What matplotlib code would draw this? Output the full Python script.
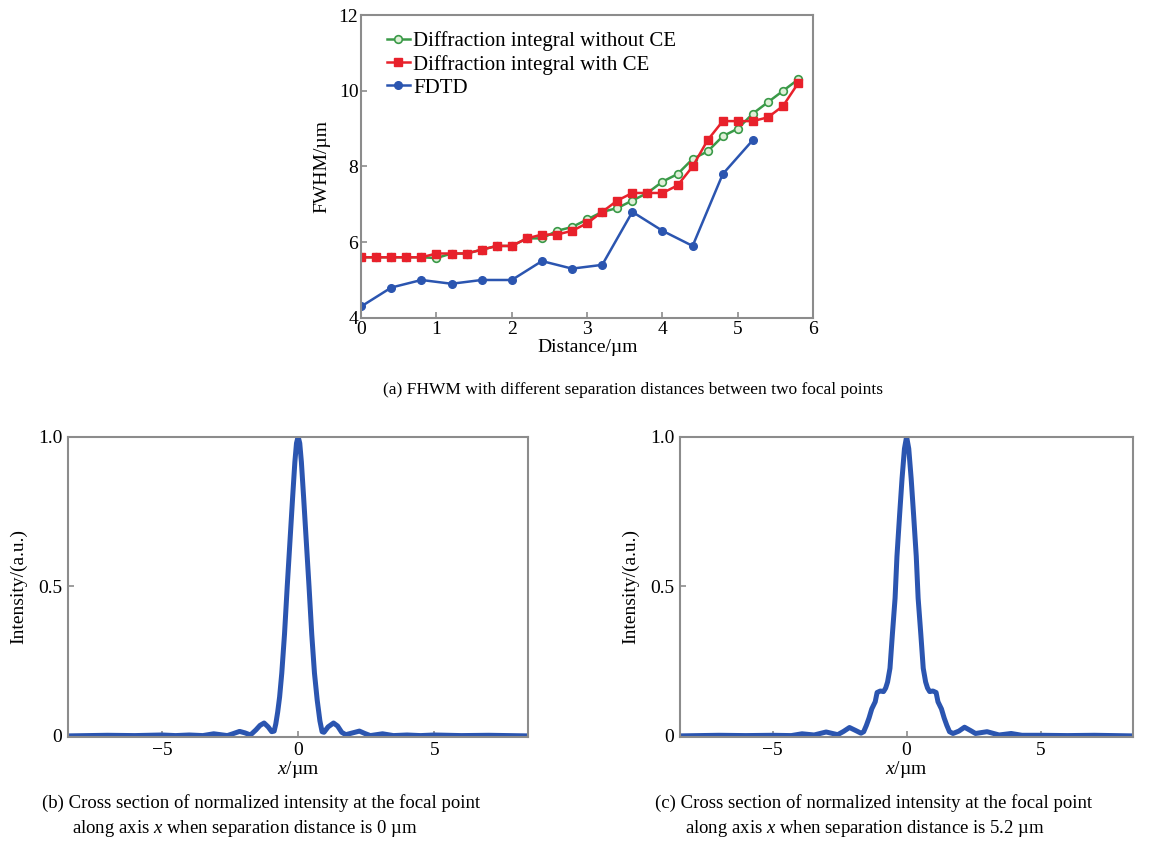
import numpy as np
import matplotlib
matplotlib.use("Agg")
import matplotlib.pyplot as plt

plt.rcParams["font.family"] = ["Liberation Serif", "DejaVu Serif"]
plt.rcParams["mathtext.fontset"] = "custom"
plt.rcParams["mathtext.rm"] = "Liberation Serif"
plt.rcParams["mathtext.it"] = "Liberation Serif:italic"
plt.rcParams["axes.unicode_minus"] = True

# ---- data: (a) FWHM vs separation distance ----
dist_ce = [0.0, 0.2, 0.4, 0.6, 0.8, 1.0, 1.2, 1.4, 1.6, 1.8, 2.0, 2.2, 2.4, 2.6, 2.8,
           3.0, 3.2, 3.4, 3.6, 3.8, 4.0, 4.2, 4.4, 4.6, 4.8, 5.0, 5.2, 5.4, 5.6, 5.8]
fwhm_no_ce = [5.6, 5.6, 5.6, 5.6, 5.6, 5.58, 5.7, 5.7, 5.8, 5.9, 5.9, 6.1, 6.1, 6.3, 6.4,
              6.6, 6.8, 6.9, 7.1, 7.3, 7.6, 7.8, 8.2, 8.4, 8.8, 9.0, 9.4, 9.7, 10.0, 10.3]
fwhm_ce = [5.6, 5.6, 5.6, 5.6, 5.6, 5.7, 5.7, 5.7, 5.8, 5.9, 5.9, 6.1, 6.2, 6.2, 6.3,
           6.5, 6.8, 7.1, 7.3, 7.3, 7.3, 7.5, 8.0, 8.7, 9.2, 9.2, 9.2, 9.3, 9.6, 10.2]
dist_fdtd = [0.0, 0.4, 0.8, 1.2, 1.6, 2.0, 2.4, 2.8, 3.2, 3.6, 4.0, 4.4, 4.8, 5.2]
fwhm_fdtd = [4.3, 4.8, 5.0, 4.9, 5.0, 5.0, 5.5, 5.3, 5.4, 6.8, 6.3, 5.9, 7.8, 8.7]

# ---- data: (b) intensity cross section, separation 0 um ----
x_b = [-8.45, -7.0, -6.0, -5.0, -4.5, -4.0, -3.5, -3.1, -2.6, -2.4, -2.15, -1.95, -1.75,
       -1.55, -1.4, -1.25, -1.1, -0.97, -0.88, -0.82, -0.75, -0.68, -0.6, -0.5, -0.4,
       -0.3, -0.2, -0.12, -0.06, 0.0, 0.06, 0.12, 0.2, 0.3, 0.4, 0.5, 0.6, 0.7, 0.8, 0.88, 0.95,
       1.1, 1.3, 1.45, 1.6, 1.75, 2.0, 2.25, 2.45, 2.65, 3.1, 3.5, 4.0, 4.5, 5.0,
       6.0, 7.0, 8.45]
i_b = [0.0, 0.002, 0.001, 0.003, 0.001, 0.003, 0.001, 0.007, 0.001, 0.007, 0.015, 0.01, 0.003,
       0.02, 0.035, 0.043, 0.03, 0.014, 0.016, 0.04, 0.08, 0.13, 0.21, 0.34, 0.5,
       0.65, 0.8, 0.915, 0.978, 1.0, 0.978, 0.915, 0.8, 0.65, 0.5, 0.34, 0.21, 0.12, 0.05, 0.014, 0.012,
       0.03, 0.043, 0.033, 0.012, 0.004, 0.01, 0.016, 0.008, 0.001, 0.007, 0.001, 0.003, 0.001, 0.003,
       0.001, 0.002, 0.0]

# ---- data: (c) intensity cross section, separation 5.2 um ----
x_c = [-8.45, -7.0, -6.0, -5.0, -4.3, -3.9, -3.45, -3.0, -2.57, -2.35, -2.13, -1.9, -1.7,
       -1.6, -1.5, -1.4, -1.3, -1.17, -1.1, -0.98, -0.86, -0.78, -0.71, -0.62, -0.53,
       -0.43, -0.36, -0.26, -0.17, -0.08, 0.0, 0.08, 0.17, 0.26, 0.36, 0.43, 0.53, 0.62, 0.71, 0.78, 0.86,
       0.98, 1.1, 1.17, 1.3, 1.4, 1.5, 1.6, 1.73, 1.95, 2.16, 2.4, 2.57, 3.0, 3.45,
       3.9, 4.3, 5.0, 6.0, 7.0, 8.45]
i_c = [0.0, 0.002, 0.001, 0.002, 0.001, 0.007, 0.003, 0.013, 0.004, 0.015, 0.028, 0.018, 0.009,
       0.014, 0.035, 0.06, 0.09, 0.114, 0.145, 0.15, 0.148, 0.16, 0.18, 0.226, 0.34,
       0.46, 0.6, 0.74, 0.86, 0.96, 1.0, 0.96, 0.86, 0.74, 0.6, 0.46, 0.34, 0.226, 0.18, 0.16, 0.148,
       0.15, 0.145, 0.114, 0.09, 0.06, 0.035, 0.014, 0.008, 0.016, 0.029, 0.017, 0.008, 0.014, 0.003,
       0.008, 0.002, 0.002, 0.001, 0.002, 0.0]

FRAME = "#8c8c8c"
BLUE = "#2b55b0"

fig = plt.figure(figsize=(11.65, 8.43), dpi=100)


def style_frame(ax):
    for s in ax.spines.values():
        s.set_color(FRAME)
        s.set_linewidth(1.5)
    ax.tick_params(direction="in", length=4, width=1.2, color=FRAME,
                   labelsize=14, labelcolor="black", pad=4)


# Panel (a)
ax = fig.add_axes([0.310, 0.623, 0.388, 0.359])
ax.plot(dist_ce, fwhm_no_ce, color="#3a9a48", lw=1.8, marker="o", ms=5.5,
        mfc="#dff0d8", mec="#3a9a48", mew=1.2, label="Diffraction integral without CE")
ax.plot(dist_ce, fwhm_ce, color="#e8212b", lw=1.8, marker="s", ms=5.5,
        label="Diffraction integral with CE")
ax.plot(dist_fdtd, fwhm_fdtd, color=BLUE, lw=1.8, marker="o", ms=5.5, label="FDTD")
ax.set_xlim(0, 6)
ax.set_ylim(4, 12)
ax.set_xticks(range(0, 7))
ax.set_yticks([4, 6, 8, 10, 12])
style_frame(ax)
ax.tick_params(pad=2)
ax.set_xlabel("Distance/µm", fontsize=14, labelpad=1)
ax.set_ylabel("FWHM/µm", fontsize=14, labelpad=6)
ax.legend(loc="upper left", frameon=False, fontsize=15, handlelength=1.1,
          handletextpad=0.15, labelspacing=0.17, borderaxespad=0.3,
          bbox_to_anchor=(0.025, 0.995))

fig.text(0.543, 0.537, "(a) FHWM with different separation distances between two focal points",
         ha="center", va="center", fontsize=12.5)


def intensity_panel(rect, x, y):
    ax = fig.add_axes(rect)
    ax.plot(x, y, color=BLUE, lw=3.6, solid_joinstyle="round")
    ax.set_xlim(-8.45, 8.45)
    ax.set_ylim(-0.003, 1.0)
    ax.set_xticks([-5, 0, 5])
    ax.set_yticks([0, 0.5, 1.0])
    ax.set_yticklabels(["0", "0.5", "1.0"])
    style_frame(ax)
    ax.set_xlabel("$x$/µm", fontsize=14, labelpad=0)
    ax.set_ylabel("Intensity/(a.u.)", fontsize=14, labelpad=8)
    return ax


intensity_panel([0.0584, 0.126, 0.395, 0.356], x_b, i_b)
intensity_panel([0.5837, 0.126, 0.389, 0.356], x_c, i_c)

fig.text(0.036, 0.047, "(b) Cross section of normalized intensity at the focal point",
         ha="left", va="center", fontsize=13.5)
fig.text(0.062, 0.017, "along axis $x$ when separation distance is 0 µm",
         ha="left", va="center", fontsize=13.5)
fig.text(0.562, 0.047, "(c) Cross section of normalized intensity at the focal point",
         ha="left", va="center", fontsize=13.5)
fig.text(0.588, 0.017, "along axis $x$ when separation distance is 5.2 µm",
         ha="left", va="center", fontsize=13.5)

fig.savefig("out.png", dpi=100)
